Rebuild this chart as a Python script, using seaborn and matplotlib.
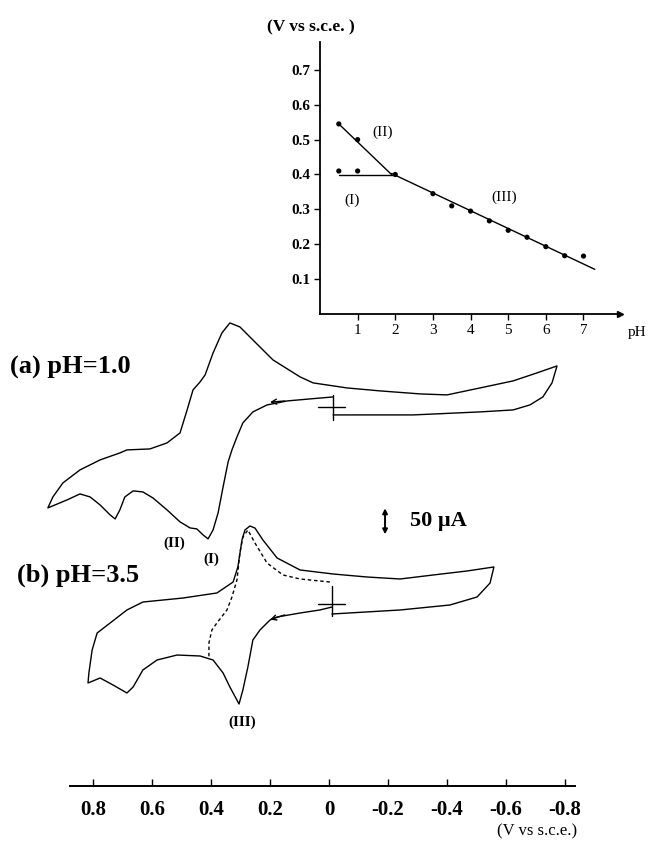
import numpy as np
import pandas as pd
import seaborn as sns
import matplotlib.pyplot as plt

# ---- inset: peak potential (V vs s.c.e.) against pH ----
ph_I = [0.5, 1.0]
ep_I = [0.41, 0.41]
ph_II = [0.5, 1.0]
ep_II = [0.545, 0.50]
ph_III = [2.0, 3.0, 3.5, 4.0, 4.5, 5.0, 5.5, 6.0, 6.5, 7.0]
ep_III = [0.40, 0.345, 0.31, 0.295, 0.267, 0.24, 0.22, 0.193, 0.167, 0.166]
# fitted straight lines (end points)
fit_I_ph, fit_I_ep = [0.5, 1.95], [0.398, 0.398]
fit_II_ph, fit_II_ep = [0.5, 1.9], [0.545, 0.40]
fit_III_ph, fit_III_ep = [1.9, 7.3], [0.403, 0.128]
inset_xticks = [1, 2, 3, 4, 5, 6, 7]
inset_yticks = [0.1, 0.2, 0.3, 0.4, 0.5, 0.6, 0.7]

# ---- cyclic voltammograms: potential (V) and current (uA, relative to start) ----
pot_a = [-0.014, -0.115, -0.285, -0.512, -0.624, -0.681, -0.725, -0.756, -0.773,
         -0.705, -0.624, -0.512, -0.400, -0.309, -0.173, -0.061, 0.054, 0.098,
         0.190, 0.258, 0.302, 0.336, 0.363, 0.393, 0.420, 0.437, 0.461, 0.481,
         0.505, 0.549, 0.607, 0.685, 0.709, 0.776, 0.844, 0.902, 0.936, 0.953,
         0.888, 0.844, 0.810, 0.776, 0.742, 0.725, 0.709, 0.692, 0.664, 0.631,
         0.597, 0.549, 0.505, 0.471, 0.448, 0.427, 0.410, 0.393, 0.376, 0.359,
         0.342, 0.329, 0.312, 0.292, 0.258, 0.210, 0.142, 0.064, -0.014]
cur_a = [-15.4, -15.4, -15.4, -9.6, -5.8, 3.8, 19.2, 46.2, 78.8,
         65.4, 50.0, 36.5, 23.1, 25.0, 30.8, 36.5, 46.2, 57.7,
         90.4, 128.8, 153.8, 161.5, 142.3, 103.8, 61.5, 48.1, 32.7, -5.8,
         -50.0, -69.2, -80.8, -82.7, -88.5, -101.9, -121.1, -146.1, -173.1, -194.2,
         -178.8, -167.3, -173.1, -188.5, -207.7, -215.4, -198.1, -173.1, -161.5, -163.5,
         -175.0, -198.1, -221.1, -232.7, -234.6, -246.1, -253.8, -236.5, -203.8, -153.8,
         -105.8, -82.7, -57.7, -30.8, -9.6, 3.8, 11.5, 15.4, 19.2]

pot_b = [-0.010, -0.241, -0.410, -0.502, -0.546, -0.559, -0.468, -0.353, -0.241,
         -0.129, -0.014, 0.098, 0.176, 0.224, 0.251, 0.268, 0.285, 0.295, 0.309,
         0.325, 0.380, 0.495, 0.631, 0.685, 0.742, 0.786, 0.803, 0.814, 0.817,
         0.776, 0.732, 0.685, 0.664, 0.631, 0.583, 0.515, 0.437, 0.393, 0.359,
         0.336, 0.305, 0.292, 0.275, 0.258, 0.234, 0.200, 0.176, 0.098, 0.031, -0.010]
cur_b = [-19.2, -11.5, -1.9, 13.5, 40.4, 71.2, 63.5, 55.8, 48.1,
         51.9, 57.7, 65.4, 88.5, 123.1, 146.1, 150.0, 142.3, 123.1, 71.2,
         42.3, 21.2, 11.5, 3.8, -11.5, -36.5, -55.8, -88.5, -132.7, -151.9,
         -142.3, -155.8, -171.1, -159.6, -126.9, -107.7, -98.1, -100.0, -107.7, -132.7,
         -159.6, -192.3, -165.4, -121.1, -69.2, -50.0, -30.8, -25.0, -17.3, -11.5, -5.8]

# reverse scan over the narrow range (dashed)
pot_b_rev = [-0.003, 0.098, 0.156, 0.210, 0.251, 0.275, 0.292, 0.302, 0.312,
             0.329, 0.346, 0.380, 0.397, 0.407, 0.407]
cur_b_rev = [42.3, 48.1, 55.8, 78.8, 117.3, 142.3, 128.8, 98.1, 46.2,
             13.5, -11.5, -36.5, -50.0, -75.0, -101.9]

pot_ticks = [0.8, 0.6, 0.4, 0.2, 0.0, -0.2, -0.4, -0.6, -0.8]
pot_labels = ['0.8', '0.6', '0.4', '0.2', '0', '-0.2', '-0.4', '-0.6', '-0.8']
scale_bar = 50  # uA

sns.set_style('white')
plt.rcParams['font.family'] = ['Liberation Serif', 'DejaVu Serif']
plt.rcParams['text.color'] = 'black'
plt.rcParams['xtick.color'] = 'black'
plt.rcParams['ytick.color'] = 'black'

fig = plt.figure(figsize=(6.48, 8.52), dpi=100)
ax = fig.add_axes([0, 0, 1, 1])
ax.set_xlim(1.1153, -1.0814)
ax.set_ylim(-126.9, 1511.5)

off_a = 729
off_b = 350
lw = 1.0

df_a = pd.DataFrame({'E': pot_a, 'I': np.array(cur_a) + off_a})
df_b = pd.DataFrame({'E': pot_b, 'I': np.array(cur_b) + off_b})
df_br = pd.DataFrame({'E': pot_b_rev, 'I': np.array(cur_b_rev) + off_b})
sns.lineplot(data=df_a, x='E', y='I', sort=False, estimator=None, color='black', lw=lw, ax=ax)
sns.lineplot(data=df_b, x='E', y='I', sort=False, estimator=None, color='black', lw=lw, ax=ax)
sns.lineplot(data=df_br, x='E', y='I', sort=False, estimator=None, color='black', lw=lw,
             linestyle=(0, (2.5, 2)), ax=ax)

# start markers (crosses)
for e0, off, lo, hi in [(-0.014, off_a, -25, 23), (-0.010, off_b, -23, 35)]:
    ax.plot([e0, e0], [off + lo, off + hi], color='black', lw=lw)
    ax.plot([0.037, -0.054], [off, off], color='black', lw=lw)

# scan direction arrows (pointing towards positive potential, i.e. left)
ax.annotate('', xy=(0.20, off_a + 9), xytext=(0.15, off_a + 11.5),
            arrowprops=dict(arrowstyle='->', color='black', lw=lw, mutation_scale=9,
                            shrinkA=0, shrinkB=0))
ax.annotate('', xy=(0.20, off_b - 30), xytext=(0.15, off_b - 21),
            arrowprops=dict(arrowstyle='->', color='black', lw=lw, mutation_scale=9,
                            shrinkA=0, shrinkB=0))

# current scale bar
ax.annotate('', xy=(-0.19, 509 - scale_bar / 2), xytext=(-0.19, 509 + scale_bar / 2),
            arrowprops=dict(arrowstyle='<|-|>', color='black', lw=1.4, mutation_scale=7,
                            shrinkA=0, shrinkB=0))
ax.text(-0.275, 509, '50 \u00b5A', fontsize=16, fontweight='bold', ha='left', va='center')

ax.text(1.081, 804, '(a) pH=1.0', fontsize=19, fontweight='bold', ha='left', va='center')
ax.text(1.058, 406, '(b) pH=3.5', fontsize=19, fontweight='bold', ha='left', va='center')
ax.text(0.525, 467, '(II)', fontsize=11, fontweight='bold', ha='center', va='center')
ax.text(0.400, 437, '(I)', fontsize=11, fontweight='bold', ha='center', va='center')
ax.text(0.295, 123, '(III)', fontsize=11, fontweight='bold', ha='center', va='center')

# potential axis
for s in ['left', 'right', 'top']:
    ax.spines[s].set_visible(False)
ax.spines['bottom'].set_position(('data', 0))
ax.spines['bottom'].set_bounds(-0.834, 0.878)
ax.spines['bottom'].set_linewidth(1.4)
ax.spines['bottom'].set_color('black')
ax.set_xticks(pot_ticks)
ax.set_xticklabels(pot_labels, fontsize=15, fontweight='bold')
ax.tick_params(axis='x', bottom=True, direction='in', length=5, width=1, pad=10)
ax.set_yticks([])
ax.set_xlabel('')
ax.set_ylabel('')
ax.text(-0.705, -88, '(V vs s.c.e.)', fontsize=12, ha='center', va='center')

# ---- inset ----
ins = fig.add_axes([0.4938, 0.6315, 0.4630, 0.3192])
ins.set_facecolor('none')
ins.set_xlim(0, 7.97)
ins.set_ylim(0, 0.78)
for ph, ep in [(fit_I_ph, fit_I_ep), (fit_II_ph, fit_II_ep), (fit_III_ph, fit_III_ep)]:
    sns.lineplot(x=ph, y=ep, color='black', lw=1.0, ax=ins)
pts = pd.DataFrame({'pH': ph_I + ph_II + ph_III, 'E': ep_I + ep_II + ep_III})
sns.scatterplot(data=pts, x='pH', y='E', color='black', s=14, edgecolor='none', ax=ins)
for s in ['right', 'top']:
    ins.spines[s].set_visible(False)
for s in ['left', 'bottom']:
    ins.spines[s].set_linewidth(1.3)
    ins.spines[s].set_color('black')
ins.plot(1, 0, '>', color='black', ms=5, transform=ins.get_yaxis_transform(), clip_on=False)
ins.set_xticks(inset_xticks)
ins.set_xticklabels([str(t) for t in inset_xticks], fontsize=11)
ins.set_yticks(inset_yticks)
ins.set_yticklabels(['%.1f' % t for t in inset_yticks], fontsize=11, fontweight='bold')
ins.tick_params(bottom=True, left=True, direction='out', length=4, width=1, pad=3)
ins.set_xlabel('')
ins.set_ylabel('')
ins.text(8.42, -0.054, 'pH', fontsize=11, ha='center', va='center', clip_on=False)
ins.text(-0.23, 0.822, '(V vs s.c.e. )', fontsize=12.5, fontweight='bold', ha='center',
         va='center', clip_on=False)
ins.text(1.66, 0.52, '(II)', fontsize=11, ha='center', va='center')
ins.text(0.84, 0.326, '(I)', fontsize=11, ha='center', va='center')
ins.text(4.9, 0.335, '(III)', fontsize=11, ha='center', va='center')

fig.savefig('out.png', dpi=100)
